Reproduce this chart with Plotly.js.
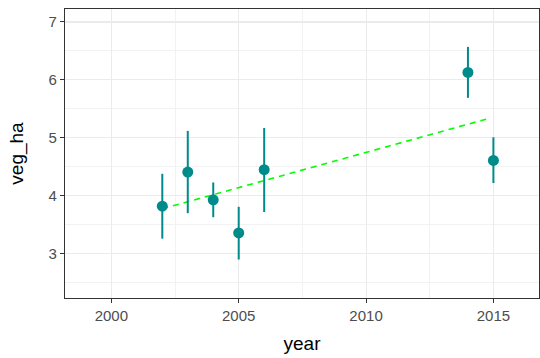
<!DOCTYPE html>
<html>
<head>
<meta charset="utf-8">
<script src="https://cdn.plot.ly/plotly-3.0.1.min.js"></script>
<style>html,body{margin:0;padding:0;background:#fff;}#chart{width:540px;height:358px;}</style>
</head>
<body>
<div id="chart"></div>
<script>
const years = [2002, 2003, 2004, 2005, 2006, 2014, 2015];
const vegHa = [3.82, 4.41, 3.93, 3.36, 4.45, 6.13, 4.61];
const upper = [4.38, 5.12, 4.23, 3.81, 5.17, 6.57, 5.01];
const lower = [3.26, 3.70, 3.63, 2.90, 3.72, 5.69, 4.22];
const trendX = [2002, 2014.76];
const trendY = [3.776, 5.328];
const xTicks = [2000, 2005, 2010, 2015];
const yTicks = [3, 4, 5, 6, 7];

const errPlus = upper.map((u, i) => u - vegHa[i]);
const errMinus = lower.map((l, i) => vegHa[i] - l);

const teal = '#008B8B';
const fontFam = 'Liberation Sans, Arial, sans-serif';
const traces = [
  {
    x: trendX, y: trendY, type: 'scatter', mode: 'lines',
    line: {color: '#00FF00', width: 1.6, dash: '6px,5px'},
    showlegend: false
  },
  {
    x: years, y: vegHa, type: 'scatter', mode: 'markers',
    marker: {color: teal, size: 11},
    error_y: {type: 'data', symmetric: false, array: errPlus, arrayminus: errMinus,
              color: teal, thickness: 2, width: 0},
    showlegend: false
  }
];

const axisCommon = {
  showline: true, mirror: true, linecolor: '#333333', linewidth: 1.2,
  ticks: 'outside', ticklen: 4, tickcolor: '#333333', tickwidth: 1,
  showgrid: true, gridcolor: '#EBEBEB', gridwidth: 1.1,
  zeroline: false,
  tickfont: {family: fontFam, size: 15, color: '#4D4D4D'},
  automargin: true
};

const layout = {
  width: 540, height: 358,
  margin: {l: 65, r: 1, t: 9, b: 60},
  paper_bgcolor: '#ffffff', plot_bgcolor: '#ffffff',
  xaxis: Object.assign({}, axisCommon, {
    range: [1998.18, 2016.79], tickvals: xTicks, ticktext: xTicks.map(String),
    minor: {tickvals: [2002.5, 2007.5, 2012.5], showgrid: true, gridcolor: '#F2F2F2', gridwidth: 1, ticks: ''},
    title: {text: 'year', font: {family: fontFam, size: 19, color: '#000'}, standoff: 13}
  }),
  yaxis: Object.assign({}, axisCommon, {
    range: [2.236, 7.224], tickvals: yTicks, ticktext: yTicks.map(String),
    minor: {tickvals: [2.5, 3.5, 4.5, 5.5, 6.5], showgrid: true, gridcolor: '#F2F2F2', gridwidth: 1, ticks: ''},
    title: {text: 'veg_ha', font: {family: fontFam, size: 19, color: '#000'}, standoff: 19}
  })
};

Plotly.newPlot('chart', traces, layout, {displayModeBar: false, staticPlot: true});
</script>
</body>
</html>
